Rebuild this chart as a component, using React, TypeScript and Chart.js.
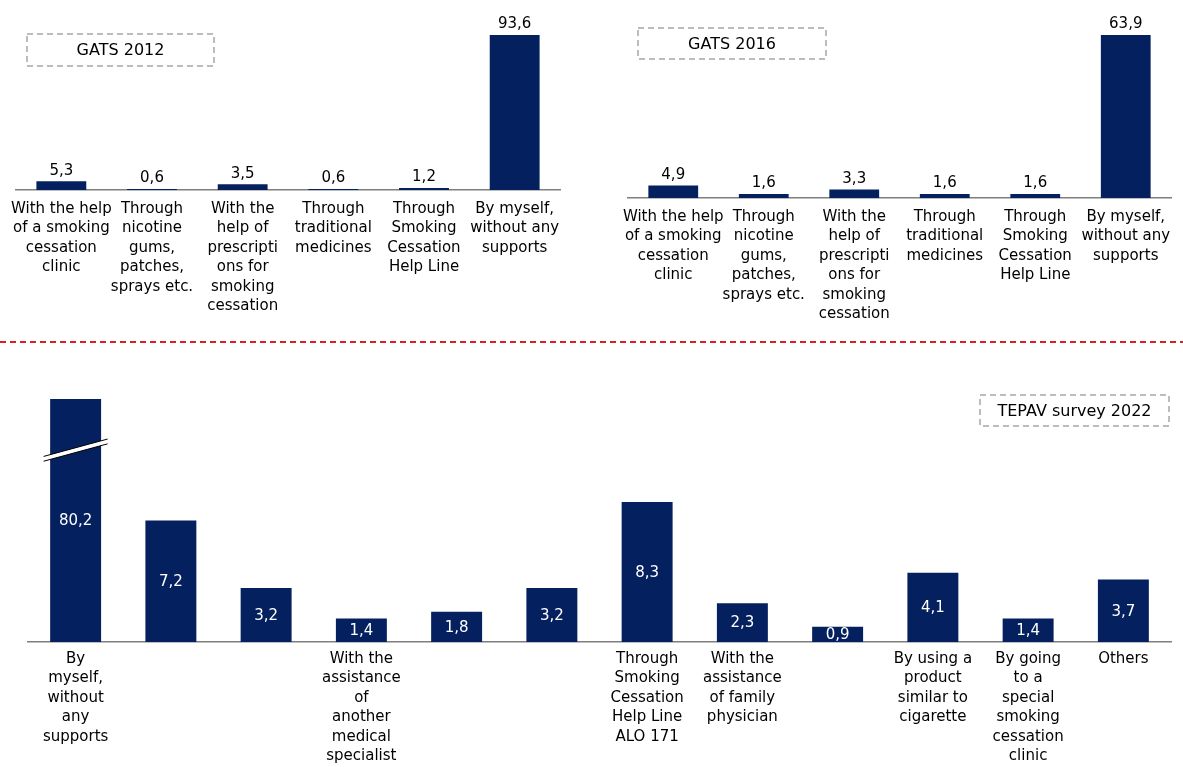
import React, { useEffect, useRef } from 'react';
import { Chart, registerables } from 'chart.js';

Chart.register(...registerables);

const FONT = '"DejaVu Sans", Verdana, sans-serif';
const BAR_COLOR = '#05205e';

const gatsCategories = [
  ['With the help', 'of a smoking', 'cessation', 'clinic'],
  ['Through', 'nicotine', 'gums,', 'patches,', 'sprays etc.'],
  ['With the', 'help of', 'prescripti', 'ons for', 'smoking', 'cessation'],
  ['Through', 'traditional', 'medicines'],
  ['Through', 'Smoking', 'Cessation', 'Help Line'],
  ['By myself,', 'without any', 'supports'],
];
const gats2012Values = [5.3, 0.6, 3.5, 0.6, 1.2, 93.6];
const gats2016Values = [4.9, 1.6, 3.3, 1.6, 1.6, 63.9];

const tepavCategories = [
  ['By', 'myself,', 'without', 'any', 'supports'],
  [''],
  [''],
  ['With the', 'assistance', 'of', 'another', 'medical', 'specialist'],
  [''],
  [''],
  ['Through', 'Smoking', 'Cessation', 'Help Line', 'ALO 171'],
  ['With the', 'assistance', 'of family', 'physician'],
  [''],
  ['By using a', 'product', 'similar to', 'cigarette'],
  ['By going', 'to a', 'special', 'smoking', 'cessation', 'clinic'],
  ['Others'],
];
const tepavValues = [80.2, 7.2, 3.2, 1.4, 1.8, 3.2, 8.3, 2.3, 0.9, 4.1, 1.4, 3.7];

const chartTitles = ['GATS 2012', 'GATS 2016', 'TEPAV survey 2022'];

const fmt = (v: number) => v.toFixed(1).replace('.', ',');

const valueLabels = {
  id: 'valueLabels',
  afterDatasetsDraw(chart: any, _args: any, opts: any) {
    const { ctx, chartArea } = chart;
    const meta = chart.getDatasetMeta(0);
    const data = chart.data.datasets[0].data as number[];
    ctx.save();
    ctx.font = `15px ${FONT}`;
    ctx.textAlign = 'center';
    meta.data.forEach((bar: any, i: number) => {
      const text = fmt(data[i]);
      if (opts.inside) {
        const top = Math.max(bar.y, chartArea.top);
        ctx.fillStyle = '#ffffff';
        ctx.textBaseline = 'middle';
        ctx.fillText(text, bar.x, (top + bar.base) / 2 + 1);
      } else {
        ctx.fillStyle = '#000000';
        ctx.textBaseline = 'bottom';
        ctx.fillText(text, bar.x, bar.y - 3);
      }
    });
    ctx.restore();
  },
};

const boxLabel = {
  id: 'boxLabel',
  afterDraw(chart: any, _args: any, opts: any) {
    if (!opts || !opts.text) return;
    const { ctx } = chart;
    ctx.save();
    ctx.strokeStyle = '#a6a6a6';
    ctx.lineWidth = 1.5;
    ctx.setLineDash([6, 4]);
    ctx.strokeRect(opts.x, opts.y, opts.w, opts.h);
    ctx.setLineDash([]);
    ctx.fillStyle = '#000000';
    ctx.font = `16px ${FONT}`;
    ctx.textAlign = 'center';
    ctx.textBaseline = 'middle';
    ctx.fillText(opts.text, opts.x + opts.w / 2, opts.y + opts.h / 2 + 1);
    ctx.restore();
  },
};

const barBreak = {
  id: 'barBreak',
  afterDatasetsDraw(chart: any, _args: any, opts: any) {
    if (!opts || opts.at == null) return;
    const { ctx } = chart;
    const bar = chart.getDatasetMeta(0).data[opts.index];
    const yc = chart.scales.y.getPixelForValue(opts.at);
    const hw = 32;
    const dy = 8.7;
    const g = 2.4;
    ctx.save();
    ctx.fillStyle = '#ffffff';
    ctx.beginPath();
    ctx.moveTo(bar.x - hw, yc + dy - g);
    ctx.lineTo(bar.x + hw, yc - dy - g);
    ctx.lineTo(bar.x + hw, yc - dy + g);
    ctx.lineTo(bar.x - hw, yc + dy + g);
    ctx.closePath();
    ctx.fill();
    ctx.strokeStyle = '#000000';
    ctx.lineWidth = 1;
    ctx.beginPath();
    ctx.moveTo(bar.x - hw, yc + dy - g);
    ctx.lineTo(bar.x + hw, yc - dy - g);
    ctx.moveTo(bar.x - hw, yc + dy + g);
    ctx.lineTo(bar.x + hw, yc - dy + g);
    ctx.stroke();
    ctx.restore();
  },
};

type Props = {
  labels: string[][];
  values: number[];
  max: number;
  left: number;
  top: number;
  width: number;
  height: number;
  padding: { left: number; right: number; top: number; bottom: number };
  axisHeight: number;
  inside: boolean;
  box: { text: string; x: number; y: number; w: number; h: number };
  breakAt?: number;
  barPct: number;
  tickPad: number;
};

function BarChart(p: Props) {
  const ref = useRef<HTMLCanvasElement>(null);
  useEffect(() => {
    const chart = new Chart(ref.current as HTMLCanvasElement, {
      type: 'bar',
      data: {
        labels: p.labels,
        datasets: [
          {
            data: p.values,
            backgroundColor: BAR_COLOR,
            barPercentage: p.barPct,
            categoryPercentage: 1,
          },
        ],
      },
      options: {
        responsive: false,
        animation: false,
        devicePixelRatio: 1,
        layout: { padding: p.padding },
        plugins: {
          legend: { display: false },
          tooltip: { enabled: false },
          valueLabels: { inside: p.inside },
          boxLabel: p.box,
          barBreak: { at: p.breakAt, index: 0 },
        } as any,
        scales: {
          x: {
            grid: { display: false, drawTicks: false },
            border: { display: true, color: '#7f7f7f', width: 1.5 },
            ticks: {
              color: '#000000',
              font: { family: FONT, size: 15, lineHeight: 1.3 },
              padding: p.tickPad,
              maxRotation: 0,
              minRotation: 0,
              autoSkip: false,
            },
            afterFit: (s: any) => {
              s.height = p.axisHeight;
            },
          },
          y: { display: false, min: 0, max: p.max },
        },
      },
      plugins: [barBreak, valueLabels, boxLabel],
    });
    return () => chart.destroy();
  }, []);
  return (
    <canvas
      ref={ref}
      width={p.width}
      height={p.height}
      style={{ position: 'absolute', left: p.left, top: p.top }}
    />
  );
}

export default function App() {
  return (
    <div
      style={{
        position: 'absolute',
        left: 0,
        top: 0,
        width: 1183,
        height: 767,
        background: '#ffffff',
        overflow: 'hidden',
      }}
    >
      <BarChart
        labels={gatsCategories}
        values={gats2012Values}
        max={93.6}
        left={0}
        top={0}
        width={590}
        height={345}
        padding={{ left: 16, right: 30, top: 35, bottom: 0 }}
        axisHeight={155}
        inside={false}
        box={{ text: chartTitles[0], x: 27, y: 34, w: 187, h: 32 }}
        barPct={0.55}
        tickPad={9}
      />
      <BarChart
        labels={gatsCategories}
        values={gats2016Values}
        max={63.9}
        left={600}
        top={0}
        width={583}
        height={345}
        padding={{ left: 28, right: 12, top: 35, bottom: 0 }}
        axisHeight={147}
        inside={false}
        box={{ text: chartTitles[1], x: 38, y: 28, w: 188, h: 31 }}
        barPct={0.55}
        tickPad={9}
      />
      <svg
        width={1183}
        height={12}
        style={{ position: 'absolute', left: 0, top: 336 }}
      >
        <line x1={0} y1={6} x2={1183} y2={6} stroke="#dc1f26" strokeWidth={2} strokeDasharray="6 4" />
      </svg>
      <BarChart
        labels={tepavCategories}
        values={tepavValues}
        max={14.4}
        left={0}
        top={350}
        width={1183}
        height={417}
        padding={{ left: 28, right: 12, top: 49, bottom: 0 }}
        axisHeight={125}
        inside={true}
        box={{ text: chartTitles[2], x: 980, y: 45, w: 189, h: 31 }}
        breakAt={11.37}
        barPct={0.535}
        tickPad={7}
      />
    </div>
  );
}
